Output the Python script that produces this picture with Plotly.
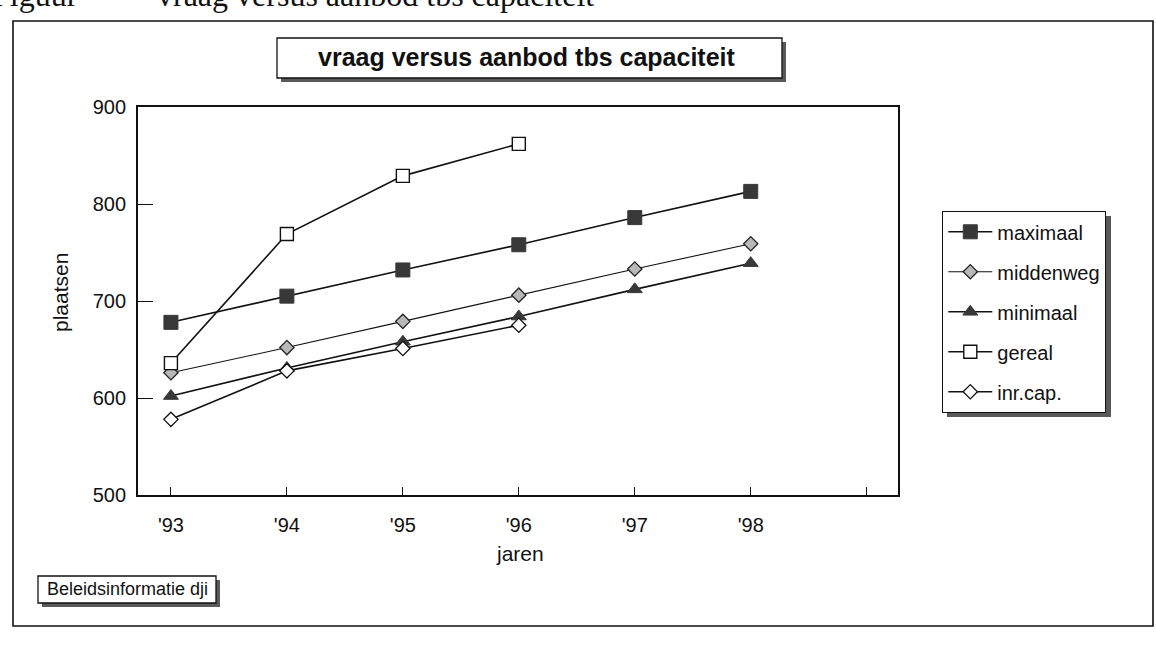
import plotly.graph_objects as go

# ---- data ----
years = [93, 94, 95, 96, 97, 98]
years_short = [93, 94, 95, 96]
tick_vals = [93, 94, 95, 96, 97, 98, 99]
tick_text = ["'93", "'94", "'95", "'96", "'97", "'98", ""]
maximaal = [678, 705, 732, 758, 786, 813]
middenweg = [626, 652, 679, 706, 733, 759]
minimaal = [602, 631, 658, 684, 712, 739]
gereal = [636, 769, 829, 862]
inr_cap = [578, 628, 651, 675]

W, H = 1156, 645
L, R, T, B = 138, 258, 107, 150
PW, PH = W - L - R, H - T - B


def px(x):
    return (x - L) / PW


def py(y):
    return (H - B - y) / PH


FONT = "Liberation Sans, Arial, sans-serif"
SERIF = "Liberation Serif, Times New Roman, serif"
DARK = "#383838"

fig = go.Figure()

series = [
    ("maximaal", years, maximaal, dict(symbol="square", size=14, color=DARK, line=dict(color=DARK, width=1))),
    ("middenweg", years, middenweg, dict(symbol="diamond", size=11, color="#b8b8b8", line=dict(color="#222", width=1.3))),
    ("minimaal", years, minimaal, dict(symbol="triangle-up", size=13, color=DARK, line=dict(color=DARK, width=1))),
    ("gereal", years_short, gereal, dict(symbol="square", size=13, color="white", line=dict(color="#111", width=1.4))),
    ("inr.cap.", years_short, inr_cap, dict(symbol="diamond", size=11, color="white", line=dict(color="#111", width=1.3))),
]
for name, xs, ys, mk in series:
    fig.add_trace(go.Scatter(
        x=xs, y=ys, name=name, mode="lines+markers", legendgroup=name,
        line=dict(color="#111", width=1.6 if name != "middenweg" else 1.1),
        marker=mk,
    ))

shapes = []
# outer frame
shapes.append(dict(type="rect", xref="paper", yref="paper", x0=px(13), x1=px(1153), y0=py(626), y1=py(21),
                   line=dict(color="#111", width=1.6), fillcolor="rgba(0,0,0,0)", layer="below"))


def box_with_shadow(x0, y0, x1, y1, sh=4):
    out = []
    out.append(dict(type="rect", xref="paper", yref="paper", x0=px(x0 + sh), x1=px(x1 + sh), y0=py(y1 + sh), y1=py(y0 + sh),
                    line=dict(width=0), fillcolor="#5a5a5a", layer="below"))
    out.append(dict(type="rect", xref="paper", yref="paper", x0=px(x0), x1=px(x1), y0=py(y1), y1=py(y0),
                    line=dict(color="#111", width=1.3), fillcolor="white", layer="below"))
    return out


shapes += box_with_shadow(277, 38, 782, 78)
shapes += box_with_shadow(38, 576, 216, 603)
# legend shadow (legend box itself is drawn by plotly on top)
shapes.append(dict(type="rect", xref="paper", yref="paper", x0=px(947), x1=px(1111), y0=py(417), y1=py(216),
                   line=dict(width=0), fillcolor="#5a5a5a", layer="below"))

annotations = [
    dict(text="<b>vraag versus aanbod tbs capaciteit</b>", x=px(527), y=py(57), xref="paper", yref="paper",
         showarrow=False, font=dict(family=FONT, size=25, color="#111"), xanchor="center", yanchor="middle"),
    dict(text="Beleidsinformatie dji", x=px(127), y=py(589), xref="paper", yref="paper",
         showarrow=False, font=dict(family=FONT, size=18, color="#111"), xanchor="center", yanchor="middle"),
    dict(text="plaatsen", x=px(60), y=py(293), xref="paper", yref="paper", textangle=-90,
         showarrow=False, font=dict(family=FONT, size=21, color="#111"), xanchor="center", yanchor="middle"),
    dict(text="jaren", x=px(520), y=py(553), xref="paper", yref="paper",
         showarrow=False, font=dict(family=FONT, size=21, color="#111"), xanchor="center", yanchor="middle"),
    # cut-off document caption at the very top of the scan
    dict(text="Figuur", x=px(-10), y=py(-5), xref="paper", yref="paper", xanchor="left", yanchor="middle",
         showarrow=False, font=dict(family=SERIF, size=32, color="#111")),
    dict(text="vraag versus aanbod tbs capaciteit", x=px(596), y=py(-5), xref="paper", yref="paper",
         xanchor="right", yanchor="middle",
         showarrow=False, font=dict(family=SERIF, size=32, color="#111")),
]

fig.update_layout(
    width=W, height=H,
    margin=dict(l=L, r=R, t=T, b=B, autoexpand=False),
    paper_bgcolor="white", plot_bgcolor="white",
    font=dict(family=FONT, size=20, color="#111"),
    shapes=shapes, annotations=annotations,
    showlegend=True,
    legend=dict(x=px(942), y=py(211), xanchor="left", yanchor="top", bgcolor="white",
                bordercolor="#111", borderwidth=1.3, font=dict(family=FONT, size=20, color="#111"),
                traceorder="grouped", tracegroupgap=11, itemwidth=44),
    xaxis=dict(range=[92.716, 99.27], tickvals=tick_vals, ticktext=tick_text, ticks="inside", ticklen=8,
               tickcolor="#111", tickwidth=1.3, showline=True, mirror=True, linecolor="#111", linewidth=1.8,
               showgrid=False, zeroline=False, ticklabelstandoff=11, tickfont=dict(size=20)),
    yaxis=dict(range=[500, 900], tickvals=[500, 600, 700, 800, 900], ticks="inside", ticklen=15,
               tickcolor="#111", tickwidth=1.3, showline=True, mirror=True, linecolor="#111", linewidth=1.8,
               showgrid=False, zeroline=False, ticklabelstandoff=6, tickfont=dict(size=20)),
)

fig.write_html("out.html", config={"displayModeBar": False},
               post_script="document.body.style.margin='0';document.body.style.overflow='hidden';")
